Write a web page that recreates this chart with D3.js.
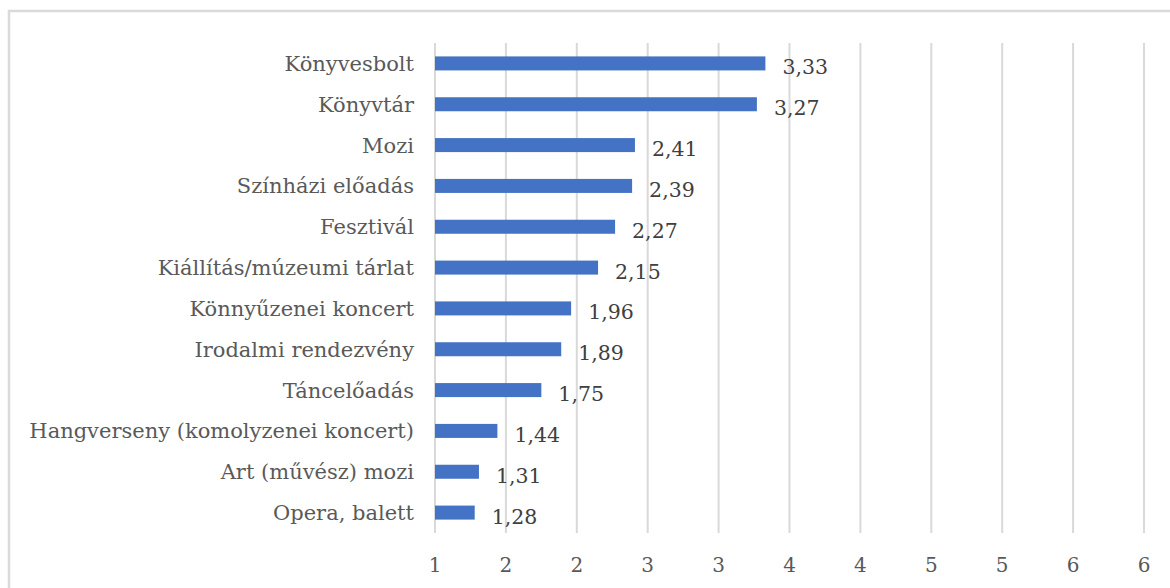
<!DOCTYPE html>
<html>
<head>
<meta charset="utf-8">
<script src="https://cdn.jsdelivr.net/npm/d3@7"></script>
<style>
  body { margin: 0; background: #fff; }
</style>
</head>
<body>
<div id="chart"></div>
<script>
// categories top to bottom, with their mean values
const categories = [
  "Könyvesbolt", "Könyvtár", "Mozi", "Színházi előadás", "Fesztivál",
  "Kiállítás/múzeumi tárlat", "Könnyűzenei koncert", "Irodalmi rendezvény",
  "Táncelőadás", "Hangverseny (komolyzenei koncert)", "Art (művész) mozi", "Opera, balett"
];
const values = [3.33, 3.27, 2.41, 2.39, 2.27, 2.15, 1.96, 1.89, 1.75, 1.44, 1.31, 1.28];
const valueLabels = ["3,33", "3,27", "2,41", "2,39", "2,27", "2,15", "1,96", "1,89", "1,75", "1,44", "1,31", "1,28"];
const tickValues = [1, 1.5, 2, 2.5, 3, 3.5, 4, 4.5, 5, 5.5, 6];
const tickLabels = ["1", "2", "2", "3", "3", "4", "4", "5", "5", "6", "6"];

let width = 1170,
    height = 588,
    margin = ({ top: 43, right: 26, bottom: 55, left: 435 });

const svg = d3.select("#chart")
  .append("svg")
  .attr("width", width)
  .attr("height", height)
  .style("font-family", "'DejaVu Serif', serif");

// outer chart border (runs off the right and bottom edges)
svg.append("rect")
  .attr("x", 9)
  .attr("y", 11)
  .attr("width", 1200)
  .attr("height", 650)
  .attr("fill", "none")
  .attr("stroke", "#dadada")
  .attr("stroke-width", 2.5);

let x = d3.scaleLinear()
  .domain([1, 6])
  .range([margin.left, width - margin.right]);

let y = d3.scaleBand()
  .domain(categories)
  .range([margin.top, height - margin.bottom]);

const barH = 14;

// vertical gridlines
svg.append("g")
  .selectAll("line")
  .data(tickValues)
  .join("line")
  .attr("x1", d => x(d))
  .attr("x2", d => x(d))
  .attr("y1", margin.top)
  .attr("y2", height - margin.bottom)
  .attr("stroke", "#d9d9d9")
  .attr("stroke-width", 2);

// x tick labels
svg.append("g")
  .selectAll("text")
  .data(tickValues)
  .join("text")
  .attr("x", d => x(d))
  .attr("y", 572)
  .attr("text-anchor", "middle")
  .attr("fill", "#595959")
  .style("font-size", "20px")
  .text((d, i) => tickLabels[i]);

// bars
svg.append("g")
  .selectAll("rect")
  .data(values)
  .join("rect")
  .attr("x", x(1))
  .attr("y", (d, i) => y(categories[i]) + y.bandwidth() / 2 - barH / 2)
  .attr("width", d => x(d) - x(1))
  .attr("height", barH)
  .attr("fill", "#4472c4");

// category labels
svg.append("g")
  .selectAll("text")
  .data(categories)
  .join("text")
  .attr("x", 414)
  .attr("y", d => y(d) + y.bandwidth() / 2 + 7.5)
  .attr("text-anchor", "end")
  .attr("fill", "#595959")
  .style("font-size", "21px")
  .text(d => d);

// value labels, offset right and a bit below the bar
svg.append("g")
  .selectAll("text")
  .data(values)
  .join("text")
  .attr("x", d => x(d) + 17)
  .attr("y", (d, i) => y(categories[i]) + y.bandwidth() / 2 + 11)
  .attr("fill", "#404040")
  .style("font-size", "20.5px")
  .text((d, i) => valueLabels[i]);
</script>
</body>
</html>
